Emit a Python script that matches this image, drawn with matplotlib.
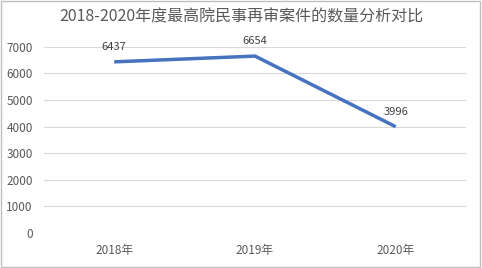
import matplotlib.pyplot as plt

plt.rcParams['font.family'] = ['Noto Sans CJK SC', 'DejaVu Sans']

years = ['2018年', '2019年', '2020年']
cases = [6437, 6654, 3996]
title = '2018-2020年度最高院民事再审案件的数量分析对比'

fig = plt.figure(figsize=(4.82, 2.68), dpi=100)
ax = fig.add_axes([0.091, 0.131, 0.876, 0.694])

x = range(len(years))
ax.plot(x, cases, color='#4672C0', linewidth=2.5, solid_capstyle='butt')
for xi, v in zip(x, cases):
    ax.annotate(str(v), (xi, v), xytext=(0, 7), textcoords='offset points',
                ha='center', va='bottom', fontsize=8, color='#404040')

ax.set_xlim(-0.5, 2.5)
ax.set_ylim(0, 7000)
ax.set_yticks(range(0, 7001, 1000))
ax.set_xticks(list(x))
ax.set_xticklabels(years)
ax.grid(axis='y', color='#d9d9d9', linewidth=0.8)
ax.set_axisbelow(True)
for s in ax.spines.values():
    s.set_visible(False)
ax.tick_params(length=0, labelsize=8.5, labelcolor='#595959')
ax.tick_params(axis='x', pad=8)
ax.tick_params(axis='y', pad=8)

fig.text(0.5, 0.935, title, ha='center', va='center', fontsize=11.5, color='#595959')

fig.patches.append(plt.Rectangle((0.002, 0.004), 0.994, 0.992, transform=fig.transFigure,
                                 fill=False, edgecolor='#bfbfbf', linewidth=1))

fig.savefig('out.png', dpi=100)
